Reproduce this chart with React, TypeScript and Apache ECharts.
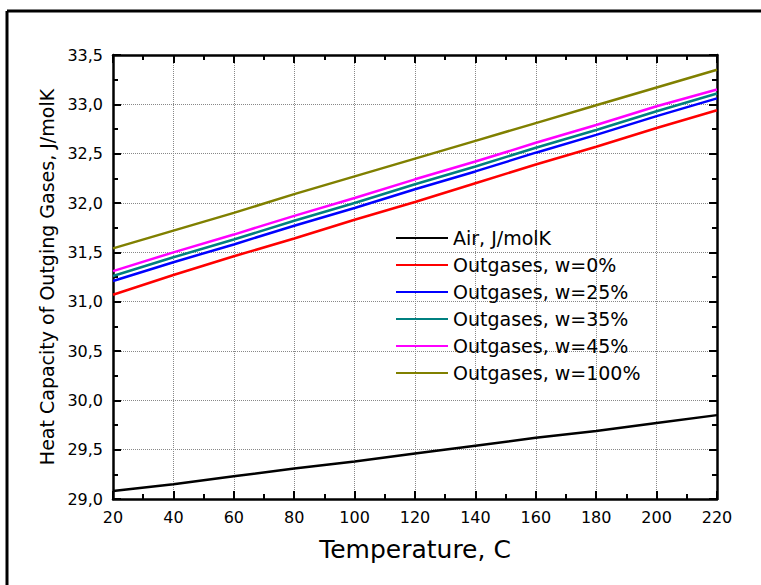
import React, { useEffect, useRef } from "react";
import * as echarts from "echarts";

const temps = [20, 40, 60, 80, 100, 120, 140, 160, 180, 200, 220];
const air = [29.08, 29.15, 29.23, 29.31, 29.38, 29.46, 29.54, 29.62, 29.69, 29.77, 29.85];
const w0 = [31.07, 31.27, 31.46, 31.64, 31.83, 32.01, 32.2, 32.39, 32.57, 32.76, 32.94];
const w25 = [31.21, 31.4, 31.58, 31.77, 31.95, 32.14, 32.32, 32.51, 32.69, 32.88, 33.06];
const w35 = [31.26, 31.45, 31.63, 31.82, 32.0, 32.19, 32.37, 32.56, 32.74, 32.93, 33.11];
const w45 = [31.31, 31.5, 31.68, 31.87, 32.05, 32.24, 32.42, 32.61, 32.79, 32.98, 33.15];
const w100 = [31.54, 31.72, 31.9, 32.09, 32.27, 32.45, 32.63, 32.81, 32.99, 33.17, 33.35];

const seriesNames = [
  "Air, J/molK",
  "Outgases, w=0%",
  "Outgases, w=25%",
  "Outgases, w=35%",
  "Outgases, w=45%",
  "Outgases, w=100%",
];
const seriesValues = [air, w0, w25, w35, w45, w100];
const seriesColors = ["#000000", "#ff0000", "#0000ff", "#008080", "#ff00ff", "#808000"];

const FONT = "DejaVu Sans";

export default function App() {
  const ref = useRef<HTMLDivElement>(null);
  useEffect(() => {
    if (!ref.current) return;
    const chart = echarts.init(ref.current, null, { renderer: "svg" });
    const axisLine = { show: true, lineStyle: { color: "#000", width: 2.5 } };
    const axisTick = { show: true, inside: true, length: 8, lineStyle: { color: "#000", width: 2 } };
    const minorTick = { show: true, splitNumber: 2, length: 5, lineStyle: { color: "#000", width: 2 } };
    const splitLine = { show: true, lineStyle: { color: "#888", type: "dotted", width: 1 } };
    chart.setOption({
      animation: false,
      backgroundColor: "#fff",
      grid: { left: 113, top: 55, right: 44, bottom: 86 },
      xAxis: [
        {
          type: "value",
          min: 20,
          max: 220,
          interval: 20,
          position: "bottom",
          axisLine,
          axisTick,
          minorTick,
          splitLine,
          axisLabel: { color: "#000", fontFamily: FONT, fontSize: 16, margin: 10 },
          name: "Temperature, C",
          nameLocation: "middle",
          nameGap: 38,
          nameTextStyle: { color: "#000", fontFamily: FONT, fontSize: 25 },
        },
        {
          type: "value",
          min: 20,
          max: 220,
          interval: 20,
          position: "top",
          axisLine,
          axisTick,
          minorTick,
          splitLine: { show: false },
          axisLabel: { show: false },
        },
      ],
      yAxis: [
        {
          type: "value",
          min: 29,
          max: 33.5,
          interval: 0.5,
          position: "left",
          axisLine,
          axisTick,
          minorTick,
          splitLine,
          axisLabel: {
            color: "#000",
            fontFamily: FONT,
            fontSize: 16,
            margin: 10,
            formatter: (v: number) => v.toFixed(1).replace(".", ","),
          },
          name: "Heat Capacity of Outging Gases, J/molK",
          nameLocation: "middle",
          nameGap: 40,
          nameTextStyle: { color: "#000", fontFamily: FONT, fontSize: 19 },
        },
        {
          type: "value",
          min: 29,
          max: 33.5,
          interval: 0.5,
          position: "right",
          axisLine,
          axisTick,
          minorTick,
          splitLine: { show: false },
          axisLabel: { show: false },
        },
      ],
      legend: {
        orient: "vertical",
        left: 395,
        top: 228,
        padding: 0,
        itemWidth: 52,
        itemHeight: 14,
        itemGap: 7,
        itemStyle: { opacity: 0 },
        textStyle: { color: "#000", fontFamily: FONT, fontSize: 19, lineHeight: 20 },
        data: seriesNames,
      },
      series: seriesNames.map((name, i) => ({
        name,
        type: "line",
        symbol: "none",
        xAxisIndex: 0,
        yAxisIndex: 0,
        color: seriesColors[i],
        lineStyle: { color: seriesColors[i], width: 2.5 },
        data: temps.map((t, j) => [t, seriesValues[i][j]]),
      })),
      graphic: [
        { type: "line", shape: { x1: 7, y1: 11, x2: 761, y2: 11 }, style: { stroke: "#000", lineWidth: 3 } },
        { type: "line", shape: { x1: 7, y1: 11, x2: 7, y2: 585 }, style: { stroke: "#000", lineWidth: 3 } },
      ],
    });
    return () => chart.dispose();
  }, []);
  return (
    <div
      ref={ref}
      style={{ position: "fixed", left: 0, top: 0, width: 761, height: 585, background: "#fff" }}
    />
  );
}
